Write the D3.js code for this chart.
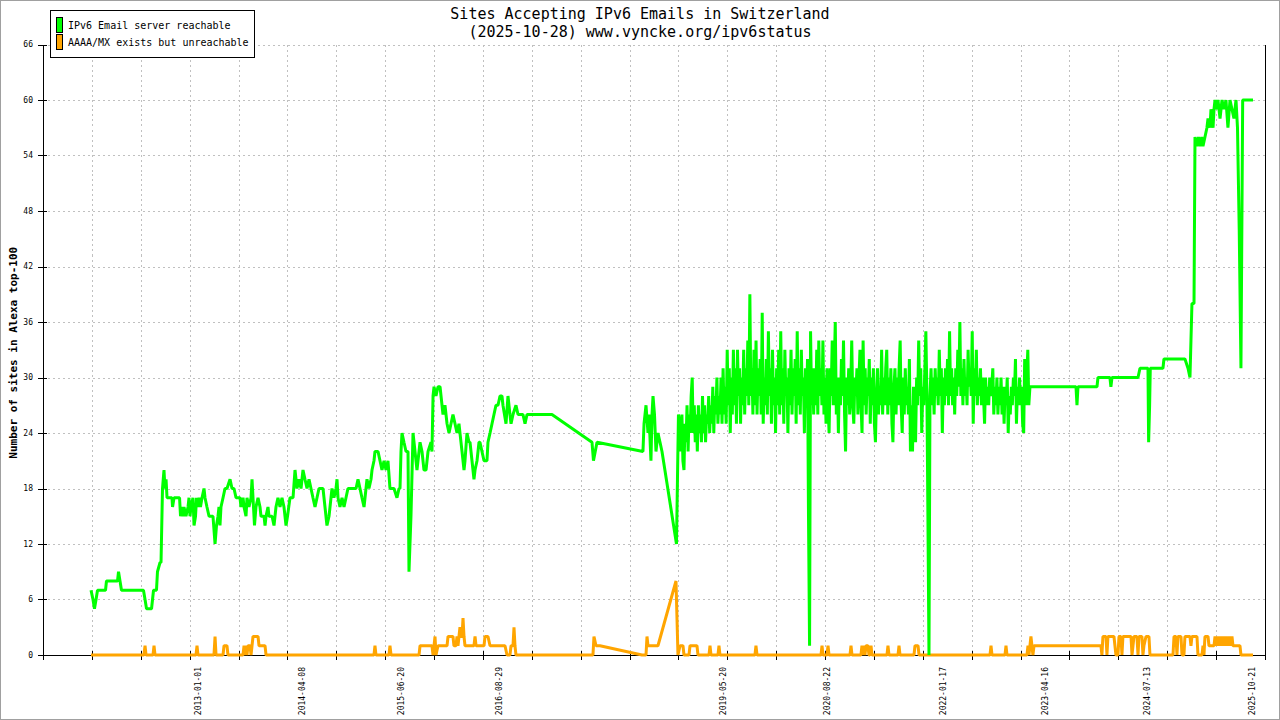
<!DOCTYPE html>
<html>
<head>
<meta charset="utf-8">
<title>Sites Accepting IPv6 Emails in Switzerland</title>
<script src="https://cdn.jsdelivr.net/npm/d3@7"></script>
<style>
  html, body { margin: 0; padding: 0; background: #fff; }
  svg { display: block; font-family: "DejaVu Sans Mono", "Liberation Mono", monospace; }
</style>
</head>
<body>
<div id="chart"></div>
<script>
// x values are decimal years, y values are site counts

const titleLines = ['Sites Accepting IPv6 Emails in Switzerland', '(2025-10-28) www.vyncke.org/ipv6status'];
const seriesNames = ['IPv6 Email server reachable', 'AAAA/MX exists but unreachable'];
const yTickValues = [0, 6, 12, 18, 24, 30, 36, 42, 48, 54, 60, 66];
const xLabelDates = ['2013-01-01', '2014-04-08', '2015-06-20', '2016-08-29', '2019-05-20',
                     '2020-08-22', '2022-01-17', '2023-04-16', '2024-07-13', '2025-10-21'];
const xDomain = [2011.13, 2025.968];
const xTickCount = 25;

const green2011to2018 = [
  [2011.713,7],[2011.737,6],[2011.755,5],[2011.774,6],[2011.792,7],[2011.889,7],[2011.901,8],[2012.035,8],
  [2012.047,9],[2012.065,8],[2012.083,7],[2012.350,7],[2012.369,6],[2012.387,5],[2012.448,5],[2012.460,6],
  [2012.472,7],[2012.508,7],[2012.520,9],[2012.551,10],[2012.563,10],[2012.581,18],[2012.599,20],[2012.611,18],
  [2012.624,19],[2012.636,17],[2012.696,17],[2012.703,16],[2012.721,17],[2012.788,17],[2012.800,15],[2012.818,16],
  [2012.830,15],[2012.842,16],[2012.866,15],[2012.891,16],[2012.903,17],[2012.915,15],[2012.927,16],[2012.951,17],
  [2012.964,14],[2012.982,15],[2012.994,17],[2013.012,16],[2013.024,17],[2013.042,16],[2013.061,17],[2013.085,18],
  [2013.097,17],[2013.121,16],[2013.146,15],[2013.194,15],[2013.219,12],[2013.237,14],[2013.255,15],[2013.267,16],
  [2013.279,14],[2013.291,16],[2013.316,17],[2013.340,18],[2013.364,18],[2013.401,19],[2013.425,18],[2013.449,18],
  [2013.474,17],[2013.522,17],[2013.534,16],[2013.559,17],[2013.571,16],[2013.595,15],[2013.607,17],[2013.631,16],
  [2013.656,17],[2013.668,19],[2013.686,16],[2013.698,14],[2013.716,16],[2013.741,17],[2013.765,16],[2013.777,15],
  [2013.814,15],[2013.826,14],[2013.838,15],[2013.862,16],[2013.874,15],[2013.911,15],[2013.935,14],[2013.959,16],
  [2013.983,17],[2014.008,16],[2014.032,17],[2014.056,16],[2014.081,14],[2014.099,15],[2014.129,17],[2014.166,17],
  [2014.190,20],[2014.214,18],[2014.238,19],[2014.263,18],[2014.287,20],[2014.311,19],[2014.336,18],[2014.360,19],
  [2014.384,18],[2014.408,17],[2014.433,16],[2014.457,17],[2014.481,18],[2014.530,18],[2014.554,16],[2014.578,14],
  [2014.603,15],[2014.615,16],[2014.639,18],[2014.663,17],[2014.688,18],[2014.700,19],[2014.712,17],[2014.736,16],
  [2014.761,17],[2014.785,16],[2014.809,17],[2014.833,18],[2014.931,18],[2014.955,19],[2014.979,18],[2015.003,17],
  [2015.028,16],[2015.052,18],[2015.064,19],[2015.088,18],[2015.113,19],[2015.125,20],[2015.149,21],[2015.161,22],
  [2015.198,22],[2015.222,21],[2015.246,20],[2015.271,21],[2015.295,20],[2015.319,21],[2015.343,18],[2015.392,18],
  [2015.428,17],[2015.453,18],[2015.465,18],[2015.477,22],[2015.489,24],[2015.513,23],[2015.538,22],[2015.562,22],
  [2015.574,9],[2015.598,15],[2015.623,24],[2015.647,22],[2015.671,20],[2015.708,23],[2015.732,22],[2015.756,20],
  [2015.781,20],[2015.805,22],[2015.841,23],[2015.853,22],[2015.866,28],[2015.878,29],[2015.902,28],[2015.926,29],
  [2015.951,29],[2015.963,28],[2015.987,26],[2016.011,27],[2016.036,25],[2016.060,24],[2016.084,25],[2016.108,26],
  [2016.133,25],[2016.157,24],[2016.181,25],[2016.193,24],[2016.218,22],[2016.242,20],[2016.254,21],[2016.278,24],
  [2016.303,23],[2016.315,23],[2016.339,21],[2016.363,19],[2016.376,20],[2016.400,21],[2016.424,23],[2016.436,23],
  [2016.460,22],[2016.485,21],[2016.521,21],[2016.533,23],[2016.558,24],[2016.582,25],[2016.606,26],[2016.630,27],
  [2016.655,27],[2016.679,28],[2016.703,28],[2016.715,27],[2016.752,25],[2016.776,28],[2016.800,26],[2016.813,25],
  [2016.837,26],[2016.873,27],[2016.898,26],[2016.958,26],[2016.983,25],[2017.007,26],[2017.310,26],[2017.796,23],
  [2017.814,21],[2017.857,23],[2018.415,22],[2018.428,25],[2018.452,27],[2018.476,24],[2018.488,26],[2018.512,21],
  [2018.525,26],[2018.537,28],[2018.555,26],[2018.573,22],[2018.597,24],[2018.622,23],[2018.646,22],[2018.822,12],
  [2018.834,19],[2018.846,26]
];

const green2019to2023 = [
  [2018.863,25],[2018.875,22],[2018.888,26],
  [2018.900,21],[2018.913,20],[2018.925,25],[2018.938,23],[2018.950,27],[2018.963,22],[2018.975,26],[2018.988,24],
  [2019.000,28],[2019.013,30],[2019.025,24],[2019.038,27],[2019.050,23],[2019.063,26],[2019.075,22],[2019.088,27],
  [2019.100,24],[2019.113,26],[2019.125,23],[2019.138,28],[2019.150,24],[2019.163,27],[2019.175,23],[2019.188,26],
  [2019.200,25],[2019.213,28],[2019.225,24],[2019.238,27],[2019.250,25],[2019.263,29],[2019.275,24],[2019.288,28],
  [2019.300,26],[2019.313,30],[2019.325,25],[2019.338,28],[2019.350,26],[2019.363,30],[2019.375,25],[2019.388,31],
  [2019.400,26],[2019.413,29],[2019.425,25],[2019.438,33],[2019.450,27],[2019.463,31],[2019.475,24],[2019.488,30],
  [2019.500,26],[2019.513,33],[2019.525,27],[2019.538,31],[2019.550,25],[2019.563,33],[2019.575,28],[2019.588,31],
  [2019.600,25],[2019.613,30],[2019.625,27],[2019.638,33],[2019.650,26],[2019.663,31],[2019.675,28],[2019.688,34],
  [2019.700,27],[2019.713,39],[2019.725,28],[2019.738,31],[2019.750,26],[2019.763,33],[2019.775,27],[2019.788,34],
  [2019.800,26],[2019.813,31],[2019.825,28],[2019.838,32],[2019.850,26],[2019.863,37],[2019.875,25],[2019.888,30],
  [2019.900,27],[2019.913,32],[2019.925,26],[2019.938,35],[2019.950,28],[2019.963,31],[2019.975,25],[2019.988,33],
  [2020.000,27],[2020.013,30],[2020.025,24],[2020.038,31],[2020.050,27],[2020.063,33],[2020.075,26],[2020.088,35],
  [2020.100,27],[2020.113,31],[2020.125,25],[2020.138,33],[2020.150,28],[2020.163,30],[2020.175,24],[2020.188,31],
  [2020.200,27],[2020.213,33],[2020.225,26],[2020.238,31],[2020.250,28],[2020.263,32],[2020.275,25],[2020.288,35],
  [2020.300,27],[2020.313,31],[2020.325,26],[2020.338,33],[2020.350,28],[2020.363,30],[2020.375,24],[2020.388,31],
  [2020.400,27],[2020.413,32],[2020.425,15],[2020.438,1],[2020.450,35],[2020.463,27],[2020.475,31],[2020.488,26],
  [2020.500,31],[2020.513,27],[2020.525,33],[2020.538,26],[2020.550,34],[2020.563,28],[2020.575,31],[2020.588,27],
  [2020.600,34],[2020.613,26],[2020.625,30],[2020.638,25],[2020.650,31],[2020.663,27],[2020.675,24],[2020.688,31],
  [2020.700,28],[2020.713,34],[2020.725,27],[2020.738,31],[2020.750,36],[2020.763,26],[2020.775,30],[2020.788,24],
  [2020.800,30],[2020.813,27],[2020.825,32],[2020.838,28],[2020.850,34],[2020.863,26],[2020.875,22],[2020.888,30],
  [2020.900,27],[2020.913,31],[2020.925,26],[2020.938,29],[2020.950,34],[2020.963,27],[2020.975,25],[2020.988,30],
  [2021.000,28],[2021.013,31],[2021.025,26],[2021.038,30],[2021.050,33],[2021.063,27],[2021.075,24],[2021.088,34],
  [2021.100,27],[2021.113,31],[2021.125,26],[2021.138,30],[2021.150,28],[2021.163,32],[2021.175,25],[2021.188,30],
  [2021.200,27],[2021.213,31],[2021.225,25],[2021.238,23],[2021.250,28],[2021.263,31],[2021.275,26],[2021.288,29],
  [2021.300,27],[2021.313,33],[2021.325,26],[2021.338,30],[2021.350,27],[2021.363,31],[2021.375,33],[2021.388,26],
  [2021.400,30],[2021.413,27],[2021.425,31],[2021.438,25],[2021.450,23],[2021.463,29],[2021.475,31],[2021.488,26],
  [2021.500,30],[2021.513,27],[2021.525,31],[2021.538,34],[2021.550,27],[2021.563,24],[2021.575,30],[2021.588,26],
  [2021.600,31],[2021.613,27],[2021.625,29],[2021.638,26],[2021.650,32],[2021.663,22],[2021.675,27],[2021.688,22],
  [2021.700,29],[2021.713,26],[2021.725,23],[2021.738,30],[2021.750,27],[2021.763,34],[2021.775,28],[2021.788,31],
  [2021.800,24],[2021.813,29],[2021.825,27],[2021.838,31],[2021.850,35],[2021.863,28],[2021.875,15],[2021.888,0],
  [2021.900,28],[2021.913,31],[2021.925,27],[2021.938,30],[2021.950,26],[2021.963,31],[2021.975,28],[2021.988,30],
  [2022.000,27],[2022.013,33],[2022.025,28],[2022.038,31],[2022.050,24],[2022.063,30],[2022.075,27],[2022.088,31],
  [2022.100,28],[2022.113,32],[2022.125,27],[2022.138,35],[2022.150,28],[2022.163,31],[2022.175,27],[2022.188,30],
  [2022.200,26],[2022.213,31],[2022.225,28],[2022.238,33],[2022.250,29],[2022.263,36],[2022.275,28],[2022.288,31],
  [2022.300,27],[2022.313,32],[2022.325,28],[2022.338,30],[2022.350,27],[2022.363,33],[2022.375,29],[2022.388,31],
  [2022.400,28],[2022.413,35],[2022.425,25],[2022.438,31],[2022.450,28],[2022.463,33],[2022.475,27],[2022.488,30],
  [2022.500,28],[2022.513,31],[2022.525,27],[2022.538,30],[2022.550,28],[2022.563,25],[2022.575,30],[2022.588,27],
  [2022.600,29],[2022.613,27],[2022.625,30],[2022.638,28],[2022.650,29],[2022.663,31],[2022.675,26],[2022.688,29],
  [2022.700,27],[2022.713,30],[2022.725,26],[2022.738,29],[2022.750,27],[2022.763,30],[2022.775,26],[2022.788,29],
  [2022.800,25],[2022.813,29],[2022.825,27],[2022.838,30],[2022.850,24],[2022.863,28],[2022.875,26],[2022.888,29],
  [2022.900,27],[2022.913,30],[2022.925,28],[2022.938,32],[2022.950,25],[2022.963,29],[2022.975,27],[2022.988,30],
  [2023.000,27],[2023.013,29],[2023.025,25],[2023.038,24],[2023.050,32],[2023.063,27],[2023.075,30],[2023.088,33],
  [2023.100,27],[2023.114,29]
];

const green2023to2025 = [
  [2023.673,29],[2023.685,27],[2023.697,29],[2023.928,29],[2023.940,30],[2024.085,30],[2024.097,29],[2024.110,30],
  [2024.426,30],[2024.450,31],[2024.547,31],[2024.555,23],[2024.567,27],[2024.575,31],[2024.729,31],[2024.741,32],
  [2024.996,32],[2025.033,31],[2025.057,30],[2025.069,34],[2025.081,38],[2025.106,38],[2025.118,56],[2025.140,55],
  [2025.160,56],[2025.178,55],[2025.200,56],[2025.215,55],[2025.239,56],[2025.263,57],[2025.276,58],[2025.300,57],
  [2025.312,59],[2025.337,57],[2025.349,59],[2025.361,60],[2025.373,59],[2025.397,60],[2025.422,58],[2025.446,60],
  [2025.470,59],[2025.494,60],[2025.518,57],[2025.543,60],[2025.567,59],[2025.591,58],[2025.616,60],[2025.634,57],
  [2025.655,46],[2025.676,31],[2025.697,60],[2025.822,60]
];

const orangeValues = [
  [2011.713,0],[2012.356,0],[2012.369,1],[2012.381,0],[2012.466,0],[2012.478,1],[2012.490,0],[2012.988,0],
  [2013.000,1],[2013.012,0],[2013.206,0],[2013.219,2],[2013.231,0],[2013.316,0],[2013.328,1],[2013.364,1],
  [2013.376,0],[2013.559,0],[2013.571,1],[2013.583,0],[2013.595,1],[2013.607,0],[2013.619,1],[2013.644,1],
  [2013.656,0],[2013.668,1],[2013.680,2],[2013.741,2],[2013.753,1],[2013.826,1],[2013.838,0],[2015.149,0],
  [2015.161,1],[2015.173,0],[2015.331,0],[2015.343,1],[2015.356,0],[2015.696,0],[2015.708,1],[2015.853,1],
  [2015.866,0],[2015.890,2],[2015.902,0],[2015.926,1],[2016.036,1],[2016.048,2],[2016.108,2],[2016.120,1],
  [2016.145,1],[2016.157,2],[2016.169,1],[2016.193,3],[2016.206,2],[2016.218,2],[2016.230,4],[2016.242,2],
  [2016.254,1],[2016.363,1],[2016.376,2],[2016.388,1],[2016.485,1],[2016.497,2],[2016.533,2],[2016.558,1],
  [2016.740,1],[2016.764,0],[2016.800,0],[2016.813,1],[2016.837,1],[2016.849,3],[2016.861,1],[2016.873,0],
  [2017.808,0],[2017.820,2],[2017.845,1],[2017.893,1],[2018.403,0],[2018.452,0],[2018.464,2],[2018.476,1],
  [2018.525,1],[2018.597,1],[2018.816,8],[2018.828,4],[2018.840,0],[2018.865,1],[2018.901,1],[2018.913,0],
  [2018.974,0],[2018.986,1],[2019.071,1],[2019.083,0],[2019.217,0],[2019.229,1],[2019.241,0],[2019.326,0],
  [2019.338,1],[2019.350,0],[2019.775,0],[2019.787,1],[2019.800,0],[2020.577,0],[2020.589,1],[2020.601,0],
  [2020.650,0],[2020.662,1],[2020.674,0],[2020.929,0],[2020.941,1],[2020.953,0],[2021.062,0],[2021.074,1],
  [2021.087,0],[2021.099,1],[2021.111,0],[2021.123,1],[2021.147,1],[2021.159,0],[2021.171,0],[2021.184,1],
  [2021.196,0],[2021.378,0],[2021.390,1],[2021.402,0],[2021.512,0],[2021.524,1],[2021.536,0],[2021.706,0],
  [2021.718,1],[2021.755,1],[2021.767,0],[2022.629,0],[2022.641,1],[2022.653,0],[2022.811,0],[2022.823,1],
  [2022.835,0],[2023.078,0],[2023.090,1],[2023.102,0],[2023.114,1],[2023.126,2],[2023.138,1],[2023.150,0],
  [2023.163,1],[2023.976,1],[2023.988,0],[2024.000,2],[2024.037,2],[2024.049,0],[2024.061,2],[2024.134,2],
  [2024.146,1],[2024.158,0],[2024.183,0],[2024.195,2],[2024.219,2],[2024.231,0],[2024.243,2],[2024.341,2],
  [2024.353,0],[2024.365,1],[2024.377,2],[2024.413,2],[2024.426,0],[2024.438,2],[2024.474,2],[2024.486,0],
  [2024.498,1],[2024.523,2],[2024.559,2],[2024.571,0],[2024.851,0],[2024.863,2],[2024.887,2],[2024.899,0],
  [2024.911,2],[2024.948,2],[2024.960,0],[2024.984,0],[2024.996,2],[2025.057,2],[2025.069,1],[2025.081,2],
  [2025.142,2],[2025.154,0],[2025.203,0],[2025.215,1],[2025.227,0],[2025.239,2],[2025.276,2],[2025.288,1],
  [2025.349,1],[2025.361,2],[2025.373,1],[2025.385,2],[2025.409,1],[2025.422,2],[2025.446,1],[2025.458,2],
  [2025.482,1],[2025.494,2],[2025.518,1],[2025.531,2],[2025.555,1],[2025.567,2],[2025.579,1],[2025.664,1],
  [2025.676,0],[2025.822,0]
];

const greenValues = green2011to2018.concat(green2019to2023, green2023to2025);

// convert 'YYYY-MM-DD' to a decimal year
function toDecimalYear(s) {
  const d = new Date(s + 'T00:00:00Z');
  const yr = d.getUTCFullYear();
  const start = Date.UTC(yr, 0, 1), end = Date.UTC(yr + 1, 0, 1);
  return yr + (d.getTime() - start) / (end - start);
}

const W = 1280, H = 720;
const margin = { top: 44.5, right: 15, bottom: 65, left: 43 };

const svg = d3.select('#chart').append('svg')
  .attr('width', W)
  .attr('height', H);

svg.append('rect')
  .attr('x', 0.5).attr('y', 0.5)
  .attr('width', W - 1).attr('height', H - 1)
  .attr('fill', '#fff')
  .attr('stroke', '#a0a0a0');

const x = d3.scaleLinear().domain(xDomain).range([margin.left, W - margin.right]);
const y = d3.scaleLinear().domain([0, 66]).range([H - margin.bottom, margin.top]);

const x0 = x.range()[0], x1 = x.range()[1];
const y0 = y.range()[0], y1 = y.range()[1];

// evenly spaced x tick positions across the domain
const xTickValues = d3.range(xTickCount + 1)
  .map(i => xDomain[0] + i * (xDomain[1] - xDomain[0]) / xTickCount);

// grid
const grid = svg.append('g')
  .attr('stroke', '#c0c0c0')
  .attr('stroke-width', 1)
  .attr('stroke-dasharray', '2,3')
  .attr('shape-rendering', 'crispEdges');

grid.selectAll('.hgrid')
  .data(yTickValues.filter(v => v > 0))
  .enter().append('line')
  .attr('x1', x0).attr('x2', x1)
  .attr('y1', d => Math.round(y(d)) + 0.5)
  .attr('y2', d => Math.round(y(d)) + 0.5);

grid.selectAll('.vgrid')
  .data(xTickValues.slice(1, -1))
  .enter().append('line')
  .attr('x1', d => Math.round(x(d)) + 0.5)
  .attr('x2', d => Math.round(x(d)) + 0.5)
  .attr('y1', y1).attr('y2', y0);

// axes
const axes = svg.append('g')
  .attr('stroke', '#000')
  .attr('stroke-width', 1)
  .attr('shape-rendering', 'crispEdges');

axes.append('line').attr('x1', x0).attr('x2', x0).attr('y1', y1).attr('y2', y0);
axes.append('line').attr('x1', x1).attr('x2', x1).attr('y1', y1).attr('y2', y0);
axes.append('line').attr('x1', x0 - 5).attr('x2', x1).attr('y1', y0).attr('y2', y0);

axes.selectAll('.ytick')
  .data(yTickValues)
  .enter().append('line')
  .attr('x1', x0 - 5).attr('x2', x0 + 4)
  .attr('y1', d => Math.round(y(d)) + 0.5)
  .attr('y2', d => Math.round(y(d)) + 0.5);

axes.selectAll('.xtick')
  .data(xTickValues)
  .enter().append('line')
  .attr('x1', d => Math.round(x(d)) + 0.5)
  .attr('x2', d => Math.round(x(d)) + 0.5)
  .attr('y1', y0 - 4).attr('y2', y0 + 5);

// y tick labels
svg.selectAll('.ylabel')
  .data(yTickValues)
  .enter().append('text')
  .attr('x', x0 - 10)
  .attr('y', d => y(d))
  .attr('dy', '0.35em')
  .attr('text-anchor', 'end')
  .style('font-size', '8px')
  .text(d => d);

// x tick labels (rotated)
svg.selectAll('.xlabel')
  .data(xLabelDates)
  .enter().append('text')
  .attr('transform', d => `translate(${x(toDecimalYear(d)) + 1},${y0 + 12}) rotate(-90)`)
  .attr('dy', '0.35em')
  .attr('text-anchor', 'end')
  .style('font-size', '8px')
  .text(d => d);

// title
svg.selectAll('.title')
  .data(titleLines)
  .enter().append('text')
  .attr('x', W / 2)
  .attr('y', (d, i) => 13.5 + i * 18)
  .attr('dy', '0.35em')
  .attr('text-anchor', 'middle')
  .style('font-size', '15px')
  .text(d => d);

// y axis title
svg.append('text')
  .attr('transform', `translate(13,${(y0 + y1) / 2 + 3}) rotate(-90)`)
  .attr('dy', '0.35em')
  .attr('text-anchor', 'middle')
  .style('font-size', '11px')
  .style('font-weight', 'bold')
  .text('Number of sites in Alexa top-100');

// series lines
const line = d3.line()
  .x(d => x(d[0]))
  .y(d => y(d[1]));

svg.append('path')
  .datum(orangeValues)
  .attr('fill', 'none')
  .attr('stroke', '#ffa500')
  .attr('stroke-width', 3)
  .attr('stroke-linejoin', 'bevel')
  .attr('d', line);

svg.append('path')
  .datum(greenValues)
  .attr('fill', 'none')
  .attr('stroke', '#00ff00')
  .attr('stroke-width', 3)
  .attr('stroke-linejoin', 'bevel')
  .attr('d', line);

// legend
const legend = svg.append('g');
legend.append('rect')
  .attr('x', 50.5).attr('y', 10.5)
  .attr('width', 204).attr('height', 47)
  .attr('fill', '#fff')
  .attr('stroke', '#000')
  .attr('shape-rendering', 'crispEdges');

const legendColors = ['#00ff00', '#ffa500'];
const legendItems = legend.selectAll('.item')
  .data(seriesNames)
  .enter().append('g')
  .attr('transform', (d, i) => `translate(0,${i * 17})`);

legendItems.append('rect')
  .attr('x', 56.5).attr('y', 17.5)
  .attr('width', 6).attr('height', 15)
  .attr('fill', (d, i) => legendColors[i])
  .attr('stroke', '#000')
  .attr('shape-rendering', 'crispEdges');

legendItems.append('text')
  .attr('x', 68).attr('y', 25.5)
  .attr('dy', '0.35em')
  .style('font-size', '10px')
  .text(d => d);
</script>
</body>
</html>
